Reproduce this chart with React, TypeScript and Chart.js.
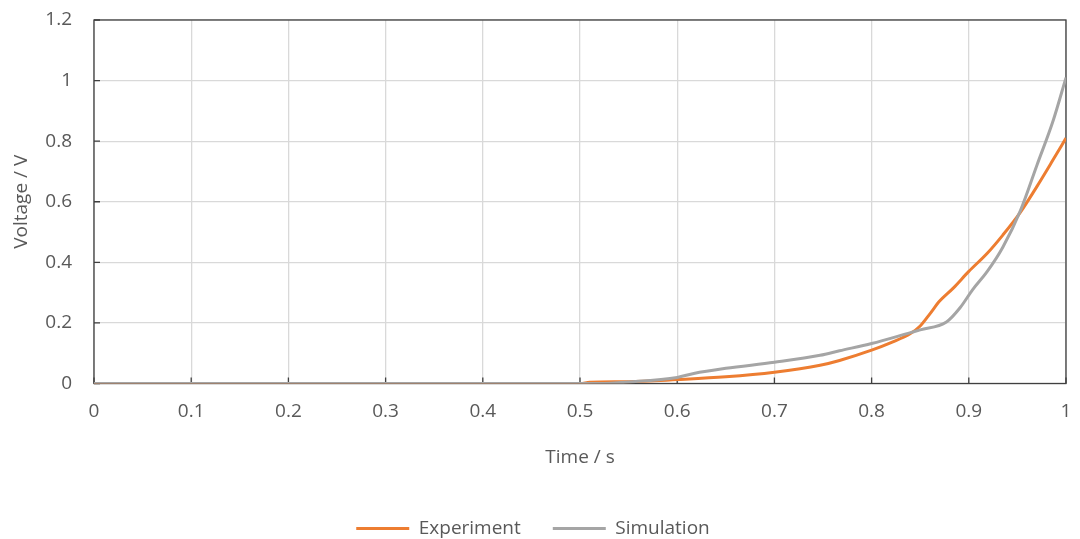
import { useEffect, useRef } from 'react';
import { Chart, registerables } from 'chart.js';

Chart.register(...registerables);

const expTime = [0, 0.5, 0.51, 0.55, 0.6, 0.65, 0.7, 0.747, 0.767, 0.8, 0.82, 0.84, 0.85, 0.86, 0.87, 0.884, 0.9, 0.919, 0.935, 0.953, 0.97, 0.987, 1.0];
const expVolt = [0, 0, 0.004, 0.006, 0.013, 0.022, 0.037, 0.06, 0.076, 0.11, 0.135, 0.165, 0.19, 0.23, 0.272, 0.315, 0.37, 0.43, 0.49, 0.565, 0.65, 0.74, 0.81];

const simTime = [0, 0.52, 0.55, 0.6, 0.617, 0.65, 0.7, 0.747, 0.767, 0.8, 0.84, 0.85, 0.877, 0.891, 0.904, 0.919, 0.935, 0.953, 0.97, 0.987, 1.0];
const simVolt = [0, 0, 0.005, 0.02, 0.033, 0.05, 0.07, 0.093, 0.108, 0.132, 0.168, 0.177, 0.203, 0.25, 0.31, 0.37, 0.45, 0.57, 0.72, 0.87, 1.01];

const seriesNames = ['Experiment', 'Simulation'];
const xTickLabels = ['0', '0.1', '0.2', '0.3', '0.4', '0.5', '0.6', '0.7', '0.8', '0.9', '1'];
const yTickLabels = ['0', '0.2', '0.4', '0.6', '0.8', '1', '1.2'];

const ORANGE = '#ED7D31';
const GRAY = '#A5A5A5';
const TEXT = '#595959';
const FONT = "'Open Sans', sans-serif";

const framePlugin = {
  id: 'frame',
  beforeLayout(chart: any) {
    const lg = chart.legend;
    if (lg && !lg._patched) {
      const f = lg.fit.bind(lg);
      lg.fit = function () {
        f();
        this.height = 52;
      };
      lg._patched = true;
    }
  },
  beforeDatasetsDraw(chart: any) {
    const { ctx, chartArea } = chart;
    const { left, right, top, bottom } = chartArea;
    const xs = chart.scales.x;
    const ys = chart.scales.y;
    ctx.save();
    ctx.strokeStyle = '#404040';
    ctx.lineWidth = 1.3;
    ctx.beginPath();
    ys.ticks.forEach((t: any) => {
      const y = ys.getPixelForValue(t.value);
      ctx.moveTo(left, y);
      ctx.lineTo(left + 6, y);
    });
    xs.ticks.forEach((t: any) => {
      const x = xs.getPixelForValue(t.value);
      ctx.moveTo(x, bottom);
      ctx.lineTo(x, bottom - 6);
    });
    ctx.stroke();
    ctx.strokeRect(left, top, right - left, bottom - top);
    ctx.restore();
  },
};

export default function App() {
  const ref = useRef<HTMLCanvasElement>(null);

  useEffect(() => {
    if (!ref.current) return;
    Chart.defaults.font.family = FONT;
    Chart.defaults.color = TEXT;
    const chart = new Chart(ref.current, {
      type: 'line',
      data: {
        datasets: [
          {
            label: seriesNames[0],
            data: expTime.map((t, i) => ({ x: t, y: expVolt[i] })),
            borderColor: ORANGE,
            backgroundColor: ORANGE,
            borderWidth: 3,
            pointRadius: 0,
            cubicInterpolationMode: 'monotone',
            order: 1,
          },
          {
            label: seriesNames[1],
            data: simTime.map((t, i) => ({ x: t, y: simVolt[i] })),
            borderColor: GRAY,
            backgroundColor: GRAY,
            borderWidth: 3,
            pointRadius: 0,
            cubicInterpolationMode: 'monotone',
            order: 0,
          },
        ],
      },
      options: {
        responsive: false,
        animation: false,
        layout: { padding: { left: 0, right: 14, top: 20, bottom: 0 } },
        plugins: {
          tooltip: { enabled: false },
          legend: {
            position: 'bottom',
            labels: {
              boxWidth: 53,
              boxHeight: 3,
              padding: 32,
              color: TEXT,
              font: { size: 19, family: FONT },
              sort: (a: any, b: any) => a.datasetIndex - b.datasetIndex,
              generateLabels: (chart: any) =>
                Chart.defaults.plugins.legend.labels
                  .generateLabels(chart)
                  .map((it: any) => ({ ...it, lineWidth: 0, strokeStyle: 'rgba(0,0,0,0)' })),
            },
          },
        },
        scales: {
          x: {
            type: 'linear',
            min: 0,
            max: 1,
            ticks: {
              stepSize: 0.1,
              padding: 17,
              color: TEXT,
              font: { size: 19 },
              maxRotation: 0,
              callback: (_v: any, i: number) => xTickLabels[i],
            },
            grid: { color: '#D9D9D9', lineWidth: 1.3, drawTicks: false },
            border: { display: false },
            title: {
              display: true,
              text: 'Time / s',
              color: TEXT,
              font: { size: 19 },
              padding: { top: 0, bottom: 18 },
            },
            afterFit: (s: any) => {
              s.height = 103.5;
              s.paddingLeft = 0;
              s.paddingRight = 0;
            },
          },
          y: {
            type: 'linear',
            min: 0,
            max: 1.2,
            ticks: {
              stepSize: 0.2,
              padding: 22,
              color: TEXT,
              font: { size: 19 },
              callback: (_v: any, i: number) => yTickLabels[i],
            },
            grid: { color: '#D9D9D9', lineWidth: 1.3, drawTicks: false },
            border: { display: false },
            title: {
              display: true,
              text: 'Voltage / V',
              color: TEXT,
              font: { size: 19 },
              padding: { top: 10, bottom: 0 },
            },
            afterFit: (s: any) => {
              s.width = 94;
              s.paddingTop = 0;
              s.paddingBottom = 0;
            },
          },
        },
      },
      plugins: [framePlugin],
    } as any);
    return () => chart.destroy();
  }, []);

  return (
    <div style={{ position: 'fixed', left: 0, top: 0, width: 1080, height: 539, background: '#fff' }}>
      <canvas ref={ref} width={1080} height={539} style={{ display: 'block' }} />
    </div>
  );
}
